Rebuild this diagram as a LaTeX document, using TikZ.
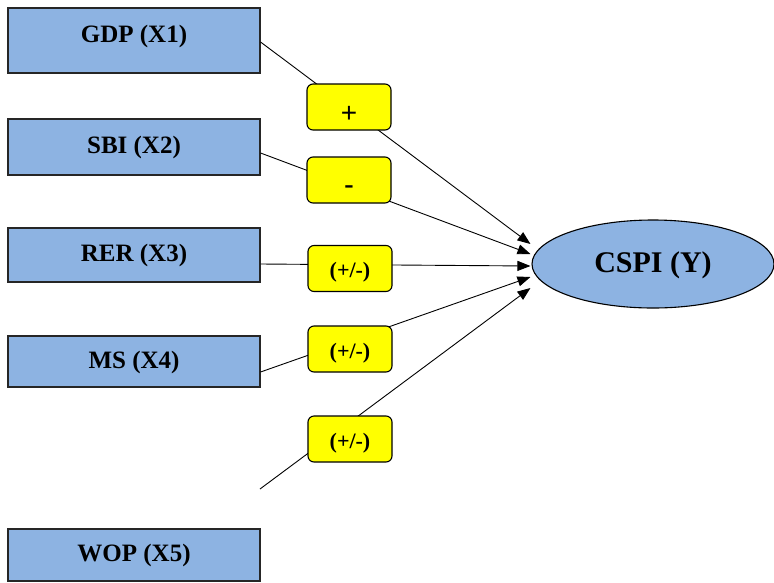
\documentclass[tikz,border=0pt]{standalone}
\usepackage{fontspec}
\setmainfont{Liberation Serif}
\newfontfamily\signsans{Liberation Sans}
\usetikzlibrary{positioning, shapes.geometric, arrows.meta}
\definecolor{varblue}{HTML}{8DB3E2}
\definecolor{signyellow}{HTML}{FFFF00}

\begin{document}
\begin{tikzpicture}[x=1pt,y=-1pt,
    var/.style={draw=black!85, line width=1.1pt, fill=varblue, minimum width=252pt, font=\fontsize{25}{28}\bfseries\selectfont, text height=18pt, text depth=4.5pt},
    sign/.style={draw, line width=1.1pt, fill=signyellow, rounded corners=6pt, minimum width=84pt, minimum height=46pt, font=\fontsize{22}{24}\bfseries\selectfont, text height=18pt, text depth=0pt},
    link/.style={line width=0.9pt, -{Triangle[length=13pt,width=10pt]}}]
    \useasboundingbox (0,0) rectangle (774,582);

    % variables
    \node[var, minimum height=65pt, text depth=15pt] (gdp) at (134,40.5) {GDP (X1)};
    \node[var, minimum height=56pt] (sbi) at (134,147) {SBI (X2)};
    \node[var, minimum height=54pt] (rer) at (134,255) {RER (X3)};
    \node[var, minimum height=51pt] (ms) at (134,361.5) {MS (X4)};
    \node[var, minimum height=52pt] (wop) at (134,555) {WOP (X5)};
    \node[draw, line width=1.1pt, ellipse, fill=varblue, minimum width=242pt, minimum height=88pt, font=\fontsize{30}{34}\bfseries\selectfont, text height=20pt, text depth=3pt] (cspi) at (653,264) {CSPI (Y)};

    \coordinate (t1) at ([shift={(-1,-20)}]cspi.west);%arrow tips
    \coordinate (t2) at ([shift={(-1,-10)}]cspi.west);
    \coordinate (t3) at ([shift={(-1,2)}]cspi.west);
    \coordinate (t4) at ([shift={(-1,13)}]cspi.west);
    \coordinate (t5) at ([shift={(-1,24)}]cspi.west);
    \coordinate (w5) at (260,489);%free end

    \draw[link] ([yshift=-1.5]gdp.east) -- (t1);
    \draw[link] ([yshift=-6]sbi.east) -- (t2);
    \draw[link] ([yshift=-9]rer.east) -- (t3);
    \draw[link] ([yshift=-10.5]ms.east) -- (t4);
    \draw[link] (w5) -- (t5);

    % signs
    \node[sign, font=\fontsize{28}{30}\signsans, text height=30pt] (s1) at (349,107) {+};
    \node[sign, font=\fontsize{28}{30}\bfseries\selectfont, text height=27pt] (s2) at (349,180) {-};
    \foreach \n/\y in {3/268.5, 4/349, 5/439}
        \node[sign] (s\n) at (350,\y) {(+/-)};
\end{tikzpicture}
\end{document}
